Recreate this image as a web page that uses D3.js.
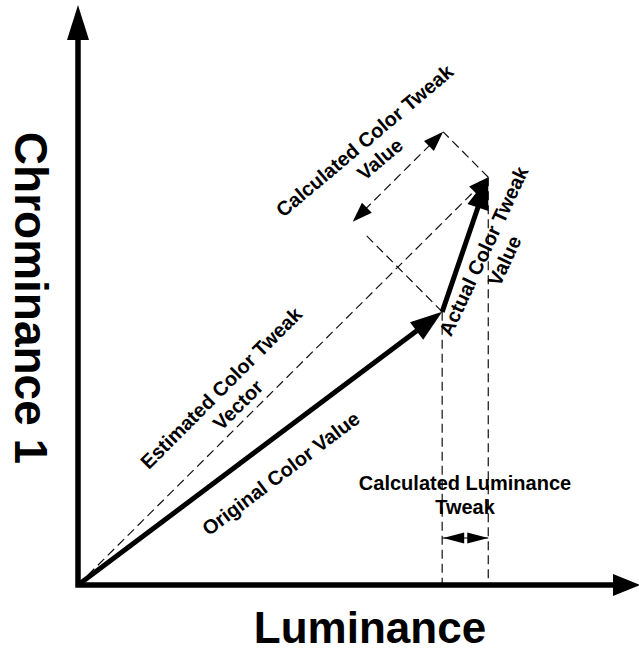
<!DOCTYPE html>
<html>
<head>
<meta charset="utf-8">
<script src="https://cdn.jsdelivr.net/npm/d3@7"></script>
<style>
  html, body { margin: 0; padding: 0; background: #fff; }
  svg { display: block; }
</style>
</head>
<body>
<div id="chart"></div>
<script>
// values as (luminance, chrominance 1), each axis 0..100
const axisLimits = [100, 100];
const originValue = [0, 0];
const originalColorValue = [64.8, 47.1];
const actualColorValue = [73.0, 70.3];

// texts
const axisTitles = ["Luminance", "Chrominance 1"];
const calcTweakLabel = ["Calculated Color Tweak", "Value"];
const estimatedLabel = ["Estimated Color Tweak", "Vector"];
const originalLabel = ["Original Color Value"];
const actualLabel = ["Actual Color Tweak", "Value"];
const lumTweakLabel = ["Calculated Luminance", "Tweak"];

const drawChart = () => {
    const width = 639, height = 653;

    const svg = d3.select("#chart").append("svg")
        .attr("width", width)
        .attr("height", height)
        .style("font-family", "'Liberation Sans', Arial, sans-serif")
        .style("font-weight", "bold");

    // 1. scales
    const x = d3.scaleLinear().domain([0, axisLimits[0]]).range([78, 640]);
    const y = d3.scaleLinear().domain([0, axisLimits[1]]).range([585, 5]);
    const pt = d => [x(d[0]), y(d[1])];

    const O = pt(originValue);
    const P1 = pt(originalColorValue);
    const P2 = pt(actualColorValue);
    const xEnd = [x(axisLimits[0]), O[1]];
    const yEnd = [O[0], y(axisLimits[1])];

    // helpers
    const unit = (a, b) => {
        const dx = b[0] - a[0], dy = b[1] - a[1], l = Math.hypot(dx, dy);
        return [dx / l, dy / l];
    };
    const move = (p, u, t) => [p[0] + u[0] * t, p[1] + u[1] * t];
    const head = (from, to, len, half) => {
        const u = unit(from, to);
        const b = move(to, u, -len);
        return [to, [b[0] - u[1] * half, b[1] + u[0] * half], [b[0] + u[1] * half, b[1] - u[0] * half]];
    };
    const line = d3.line();

    const dashed = svg.append("g")
        .attr("fill", "none")
        .attr("stroke", "#111")
        .attr("stroke-width", 1.2)
        .attr("stroke-dasharray", "9,5");
    const heads = svg.append("g").attr("fill", "#000");

    // 2. estimated vector (dashed, origin -> actual color)
    const u = unit(O, P2);
    const n = [-u[1], u[0]];
    dashed.append("path").attr("d", line([O, move(P2, u, -18)]));
    heads.append("path").attr("d", line(head(O, P2, 20, 7)) + "Z");

    // 3. projection of the tweak onto the estimated vector, drawn offset
    const tweakOffset = 64;
    const proj = (P2[0] - P1[0]) * u[0] + (P2[1] - P1[1]) * u[1];
    const T = move(P2, n, -tweakOffset);
    const L = move(T, u, -proj);
    dashed.append("path").attr("d", line([P2, T]));
    dashed.append("path").attr("d", line([P1, move(P1, n, -111)]));
    dashed.append("path").attr("d", line([move(T, u, -18), move(L, u, 18)]));
    heads.append("path").attr("d", line(head(L, T, 20, 7)) + "Z");
    heads.append("path").attr("d", line(head(T, L, 20, 7)) + "Z");

    // 4. vertical drops to luminance axis
    dashed.append("path").attr("d", line([P1, [P1[0], O[1]]]));
    dashed.append("path").attr("d", line([P2, [P2[0], O[1]]]));

    // luminance tweak double arrow
    const ly = 538;
    const mid = [(P1[0] + P2[0]) / 2, ly];
    svg.append("path").attr("d", line([[P1[0], ly], [P2[0], ly]]))
        .attr("stroke", "#000").attr("stroke-width", 1);
    heads.append("path").attr("d", line(head(mid, [P1[0] + 1, ly], 21, 5.5)) + "Z");
    heads.append("path").attr("d", line(head(mid, [P2[0], ly], 21, 5.5)) + "Z");

    // 5. solid vectors
    const solid = svg.append("g")
        .attr("fill", "none")
        .attr("stroke", "#000")
        .attr("stroke-width", 5);
    [[O, P1], [P1, P2]].forEach(([a, b]) => {
        solid.append("path").attr("d", line([a, move(b, unit(a, b), -28)]));
        heads.append("path").attr("d", line(head(a, b, 32, 11)) + "Z");
    });

    // 6. axes
    const axisHeadY = head(O, yEnd, 35, 11);
    const axisHeadX = head(O, xEnd, 27, 11);
    svg.append("path")
        .attr("d", line([move(yEnd, [0, 1], 33), O, move(xEnd, [-1, 0], 25)]))
        .attr("fill", "none")
        .attr("stroke", "#000")
        .attr("stroke-width", 5.5)
        .attr("stroke-linejoin", "miter");
    svg.append("path").attr("d", line(axisHeadY) + "Z");
    svg.append("path").attr("d", line(axisHeadX) + "Z");

    // 7. labels
    const label = (lines, cx, cy, angle, size, gap) => {
        const t = svg.append("text")
            .attr("transform", `translate(${cx},${cy}) rotate(${angle})`)
            .attr("text-anchor", "middle")
            .style("font-size", `${size}px`);
        t.selectAll("tspan").data(lines).join("tspan")
            .attr("x", 0)
            .attr("y", (d, i) => i * gap)
            .text(d => d);
    };

    label(calcTweakLabel, 369, 146, -40, 20, 24);
    label(estimatedLabel, 226, 393, -45, 20, 24);
    label(originalLabel, 285, 479, -37, 20, 24);
    label(actualLabel, 490, 254, -65, 20, 23);
    label(lumTweakLabel, 465, 490, 0, 20, 24);

    label([axisTitles[0]], 370, 643, 0, 44, 0);
    label([axisTitles[1]], 15, 298, 90, 46, 0);
};

document.addEventListener("DOMContentLoaded", drawChart);
</script>
</body>
</html>
